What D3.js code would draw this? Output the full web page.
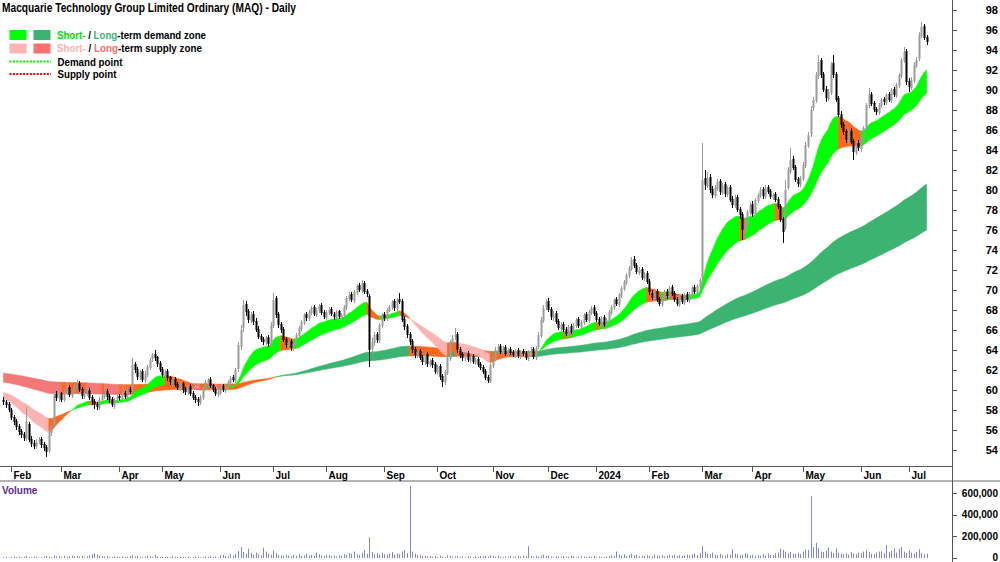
<!DOCTYPE html>
<html>
<head>
<meta charset="utf-8">
<script src="https://cdn.jsdelivr.net/npm/d3@7"></script>
<style>
  body { margin: 0; background: #fff; }
  svg { display: block; font-family: Arial, "Liberation Sans", sans-serif; }
</style>
</head>
<body>
<svg id="chart" width="1000" height="562"></svg>
<script>
// DATA (daily bars, late Jan 2023 to mid Jul 2024)
const title = 'Macquarie Technology Group Limited Ordinary (MAQ) - Daily'
const firstDay = '2023-01-27'
const holidays = ['2023-04-07','2023-04-10','2023-04-25','2023-06-12','2023-12-25','2023-12-26',
  '2024-01-01','2024-01-26','2024-03-29','2024-04-01','2024-04-25','2024-06-10']

const opens = [
  59.0,58.8,58.6,58.0,57.3,56.9,56.4,55.9,55.6,55.1, 56.6,55.1,54.7,54.3,54.9,55.1,54.6,54.3,53.9,55.7,
  56.4,59.6,59.1,59.7,59.0,59.7,60.3,59.4,59.8,60.2, 60.7,60.1,59.3,59.6,60.0,59.3,58.9,58.6,58.2,59.0,
  59.3,59.9,59.4,59.1,58.4,59.1,59.4,59.1,59.7,59.2, 60.1,59.9,62.6,62.1,61.2,61.9,60.9,61.5,62.2,63.1,
  63.6,63.3,62.7,62.1,61.4,61.9,61.3,60.7,61.1,60.6, 60.1,60.7,60.1,59.7,60.4,59.7,59.3,59.1,58.7,59.2,
  60.1,60.7,61.1,60.5,60.1,59.5,59.7,60.4,59.9,60.3, 60.7,61.3,60.9,62.1,64.3,66.2,68.6,67.9,66.9,67.6,
  66.9,66.1,65.4,65.1,64.7,65.3,64.5,66.4,69.2,67.6, 66.6,66.1,65.1,64.4,64.9,64.1,64.5,65.4,66.1,66.7,
  67.6,67.1,67.7,68.3,67.5,67.9,68.5,67.8,67.2,67.7, 68.1,67.6,67.2,67.9,67.2,67.4,68.2,69.1,69.6,68.9,
  69.7,70.5,69.9,70.7,69.9,69.4,64.1,64.7,65.6,64.9, 66.4,67.6,67.1,67.9,68.2,68.9,68.1,69.1,68.9,67.1,
  66.4,65.6,64.9,64.1,63.4,63.9,63.3,62.7,63.6,62.5, 63.0,62.6,61.7,62.4,61.4,60.7,61.7,63.1,64.7,65.3,
  65.6,64.1,63.6,63.1,63.7,62.9,63.4,62.7,63.1,62.6, 62.3,61.9,61.3,60.8,62.4,63.1,63.9,64.4,63.7,64.3,
  63.5,64.1,63.8,63.4,64.0,63.3,63.9,63.7,63.1,63.7, 64.1,63.2,64.3,65.4,66.9,68.3,68.9,68.1,67.2,67.7,
  66.9,66.1,66.6,66.1,65.5,66.4,65.7,66.4,67.1,66.3, 66.7,67.6,66.9,67.7,68.3,67.7,67.1,66.5,67.3,66.4,
  66.9,67.7,68.2,69.1,68.5,69.4,70.1,70.7,71.4,72.1, 73.1,72.5,71.7,72.1,71.1,71.7,70.9,69.7,69.1,69.9,
  69.1,68.5,69.1,69.9,69.3,70.3,69.7,69.1,68.5,69.4, 68.7,69.6,68.9,69.5,70.3,69.7,70.3,71.2,81.2,80.4,
  81.3,80.1,79.4,80.1,80.9,79.7,80.6,79.5,80.3,79.1, 78.4,79.3,78.1,77.6,75.9,76.4,77.7,78.6,77.5,78.9,
  79.4,80.1,79.3,80.3,79.9,79.2,79.6,79.1,78.4,77.1, 76.2,80.2,81.8,83.1,82.3,81.1,80.5,81.1,82.4,84.4,
  85.6,88.2,88.9,91.4,93.0,91.6,90.1,89.1,89.7,92.7, 91.6,89.2,87.6,86.6,85.9,84.9,85.9,84.9,83.7,84.7,
  84.1,84.9,86.1,88.4,89.6,88.7,88.1,87.7,88.4,89.1, 88.7,89.6,88.9,90.1,89.4,90.4,91.4,92.9,93.9,90.9,
  90.2,90.9,92.4,93.1,95.4,96.4,95.3
]
const highs = [
  59.3,59.0,58.8,58.2,57.5,57.1,56.6,56.1,55.8,58.3, 56.8,55.4,55.0,55.1,55.3,55.3,54.8,54.5,56.0,56.5,
  60.0,59.9,59.9,59.8,60.1,60.5,60.5,60.0,60.6,61.0, 60.9,60.3,59.9,60.3,60.2,59.5,59.1,58.8,59.3,59.6,
  60.1,60.1,59.6,59.3,59.2,59.5,59.6,59.9,59.9,60.3, 60.3,63.2,62.8,62.3,62.0,62.1,61.9,62.5,63.2,63.7,
  64.0,63.4,62.9,62.3,62.0,62.1,61.4,61.2,61.3,60.8, 60.8,60.8,60.3,60.5,60.6,59.9,59.5,59.3,59.5,60.4,
  61.0,61.2,61.3,60.6,60.3,60.0,60.5,60.6,60.6,61.0, 61.4,61.5,62.2,64.8,66.5,69.0,68.9,68.1,67.8,67.9,
  67.2,66.4,65.6,65.3,65.4,65.5,66.8,69.7,69.4,67.8, 66.8,66.3,65.3,65.0,65.1,64.8,65.7,66.4,67.0,67.7,
  67.8,68.0,68.4,68.5,68.2,68.6,68.7,68.0,68.0,68.3, 68.3,67.8,68.0,68.0,67.7,68.5,69.4,69.8,69.8,70.0,
  70.6,70.7,71.0,70.9,70.1,69.6,65.2,65.8,65.8,66.7, 67.7,67.8,68.2,68.5,69.0,69.1,69.2,69.7,69.1,67.4,
  66.6,65.8,65.1,64.3,64.0,64.1,63.5,63.7,63.8,63.1, 63.2,62.8,62.5,62.6,61.6,62.0,63.4,65.0,65.5,66.2,
  65.8,64.3,63.8,63.8,63.9,63.5,63.6,63.2,63.3,62.8, 62.5,62.1,61.5,62.7,63.4,64.3,64.6,64.6,64.4,64.5,
  64.2,64.3,64.0,64.1,64.2,64.0,64.1,63.9,64.0,64.3, 64.3,64.4,65.8,67.3,68.5,69.1,69.2,68.3,67.9,67.9,
  67.1,66.8,66.8,66.3,66.5,66.6,66.7,67.2,67.3,67.0, 67.7,67.8,68.0,68.4,68.5,67.9,67.3,67.4,67.5,67.2,
  68.0,68.5,69.2,69.3,69.7,70.4,71.0,71.7,72.4,73.3, 73.4,72.7,72.3,72.3,71.8,71.9,71.1,70.0,70.1,70.1,
  69.3,69.4,70.0,70.1,70.4,70.5,69.9,69.3,69.5,69.6, 69.7,69.8,69.8,70.4,70.5,70.6,71.2,84.7,82.0,81.8,
  81.6,80.4,80.5,81.1,81.1,80.7,80.8,80.4,80.5,79.4, 79.5,79.5,78.3,77.8,77.0,78.0,78.8,78.9,79.2,79.7,
  80.3,80.3,80.5,80.5,80.1,79.7,79.8,79.3,78.6,77.3, 81.0,82.3,84.2,83.4,82.5,81.3,81.4,82.8,84.8,85.8,
  88.4,89.3,91.8,93.5,93.2,91.8,90.4,90.1,92.8,93.5, 91.8,89.4,87.9,86.8,86.1,86.1,86.2,85.1,84.9,85.0,
  85.3,86.4,88.7,90.2,89.8,88.9,88.3,88.7,89.2,89.3, 89.7,89.8,90.2,90.3,90.7,91.7,93.2,94.3,94.1,91.2,
  91.3,92.8,93.3,95.8,96.8,96.6,95.5
]
const lows = [
  58.5,58.2,57.8,57.0,56.5,56.0,55.5,55.2,54.9,54.9, 54.8,54.3,54.1,54.1,54.6,54.2,53.9,53.3,53.7,55.4,
  56.3,58.9,58.8,58.8,58.8,59.5,59.3,59.2,59.6,60.0, 59.8,59.1,59.1,59.4,59.0,58.5,58.1,58.0,58.0,58.8,
  59.1,59.0,58.7,58.3,58.1,58.8,58.9,59.0,59.1,59.0, 59.6,59.7,61.7,61.0,61.0,60.8,60.7,61.3,62.0,62.8,
  62.9,62.3,61.8,61.2,61.2,60.9,60.5,60.5,60.3,60.0, 59.9,59.7,59.5,59.5,59.4,59.0,58.7,58.4,58.5,59.0,
  59.9,60.4,60.2,59.8,59.4,59.3,59.5,59.8,59.7,60.1, 60.5,60.8,60.7,61.8,64.0,65.8,67.4,66.7,66.7,66.5,
  65.8,65.1,64.8,64.5,64.5,64.3,64.3,66.2,67.2,66.2, 65.7,64.8,64.2,64.2,63.9,63.9,64.3,65.2,65.9,66.5,
  66.9,66.9,67.5,67.4,67.3,67.7,67.5,67.1,67.0,67.5, 67.4,67.0,67.0,67.1,67.0,66.9,68.0,68.9,68.8,68.7,
  69.5,69.8,69.7,69.6,69.3,62.3,63.6,64.4,64.7,64.7, 66.2,66.9,66.9,67.8,68.0,67.9,67.9,68.6,66.8,66.0,
  65.2,64.5,63.7,63.2,63.2,63.0,62.5,62.5,62.3,62.3, 62.2,61.6,61.5,61.0,60.3,60.5,61.5,62.9,64.5,65.0,
  63.7,63.2,62.9,62.9,62.8,62.7,62.6,62.5,62.3,62.0, 61.6,61.0,60.7,60.7,62.2,62.9,63.7,63.6,63.5,63.4,
  63.3,63.5,63.3,63.2,63.2,63.1,63.4,63.0,62.9,63.5, 63.1,63.0,64.1,65.2,66.7,68.0,67.8,67.0,66.9,66.6,
  66.0,65.9,65.8,65.4,65.3,65.6,65.5,66.2,66.2,66.1, 66.5,66.8,66.7,67.5,67.4,66.8,66.4,66.3,66.3,66.2,
  66.7,67.5,68.0,68.4,68.3,69.2,69.9,70.5,71.2,71.9, 72.2,71.6,71.5,71.0,70.9,70.6,69.5,69.0,68.9,68.8,
  68.4,68.3,68.9,69.1,69.1,69.4,68.8,68.4,68.3,68.6, 68.5,68.8,68.7,69.3,69.6,69.6,70.1,70.5,80.0,80.2,
  79.7,79.2,79.2,79.9,79.5,79.5,79.3,79.3,78.8,78.2, 78.2,77.8,77.1,75.0,75.6,76.2,77.5,77.3,77.3,78.7,
  79.2,79.1,79.1,79.6,79.1,79.0,78.8,78.1,76.8,74.7, 76.0,80.0,81.6,82.0,80.8,80.3,80.3,80.9,82.2,84.2,
  85.3,87.9,88.7,91.1,91.2,89.8,88.8,88.9,89.5,91.2, 88.8,87.3,86.2,85.5,84.7,84.6,84.6,83.0,83.5,83.9,
  83.8,84.7,85.9,88.2,88.4,87.8,87.5,87.5,88.2,88.5, 88.5,88.8,88.7,89.3,89.2,90.2,91.2,92.7,90.5,89.8,
  90.0,90.7,92.2,92.9,95.2,95.0,94.5
]
const closes = [
  58.8,58.5,58.0,57.2,56.8,56.3,55.8,55.5,55.2,56.8, 55.0,54.6,54.4,54.8,55.0,54.5,54.2,53.8,55.8,56.2,
  59.5,59.2,59.6,59.0,59.8,60.2,59.5,59.8,60.3,60.6, 60.0,59.4,59.7,60.1,59.2,58.8,58.5,58.3,59.0,59.4,
  59.8,59.3,59.0,58.5,59.0,59.3,59.2,59.6,59.3,60.0, 59.8,62.5,62.0,61.3,61.8,61.0,61.6,62.3,63.0,63.5,
  63.2,62.6,62.0,61.5,61.8,61.2,60.8,61.0,60.5,60.2, 60.6,60.0,59.8,60.3,59.6,59.2,59.0,58.8,59.3,60.2,
  60.8,61.0,60.4,60.0,59.6,59.8,60.3,60.0,60.4,60.8, 61.2,61.0,62.0,64.5,66.0,68.5,67.8,67.0,67.5,66.8,
  66.0,65.3,65.0,64.8,65.2,64.6,66.5,69.0,67.5,66.5, 66.0,65.0,64.5,64.8,64.2,64.6,65.5,66.2,66.8,67.5,
  67.2,67.8,68.2,67.6,68.0,68.4,67.7,67.3,67.8,68.0, 67.6,67.3,67.8,67.3,67.5,68.3,69.2,69.5,69.0,69.8,
  70.4,70.0,70.6,69.8,69.6,64.0,64.8,65.5,65.0,66.5, 67.5,67.2,68.0,68.3,68.8,68.2,69.0,68.8,67.0,66.3,
  65.5,64.8,64.0,63.5,63.8,63.2,62.8,63.5,62.6,62.9, 62.5,61.8,62.3,61.3,60.8,61.8,63.2,64.8,65.2,65.5,
  64.0,63.5,63.2,63.6,63.0,63.3,62.8,63.0,62.5,62.2, 61.8,61.2,60.9,62.5,63.2,64.0,64.3,63.8,64.2,63.6,
  64.0,63.7,63.5,63.9,63.4,63.8,63.6,63.2,63.8,64.0, 63.3,64.2,65.5,67.0,68.2,68.8,68.0,67.3,67.6,66.8,
  66.2,66.5,66.0,65.6,66.3,65.8,66.5,67.0,66.4,66.8, 67.5,67.0,67.8,68.2,67.6,67.0,66.6,67.2,66.5,67.0,
  67.8,68.3,69.0,68.6,69.5,70.2,70.8,71.5,72.2,73.0, 72.4,71.8,72.0,71.2,71.6,70.8,69.8,69.2,69.8,69.0,
  68.6,69.2,69.8,69.4,70.2,69.6,69.0,68.6,69.3,68.8, 69.5,69.0,69.6,70.2,69.8,70.4,71.0,81.0,80.5,81.2,
  80.0,79.5,80.2,80.8,79.8,80.5,79.6,80.2,79.0,78.5, 79.2,78.0,77.5,76.0,76.5,77.8,78.5,77.6,79.0,79.5,
  80.0,79.4,80.2,79.8,79.3,79.5,79.0,78.3,77.0,75.8, 80.0,82.0,83.0,82.2,81.0,80.6,81.2,82.5,84.5,85.5,
  88.0,89.0,91.5,92.8,91.5,90.0,89.2,89.8,92.5,91.5, 89.0,87.5,86.5,85.8,85.0,85.8,84.8,83.8,84.6,84.2,
  85.0,86.2,88.5,89.5,88.6,88.0,87.8,88.5,89.0,88.8, 89.5,89.0,90.0,89.5,90.5,91.5,93.0,93.8,90.8,90.3,
  91.0,92.5,93.0,95.5,96.3,95.2,94.8
]
// volume in thousands of shares
const volumes = [
  8,12,6,10,15,9,11,7,13,20, 9,6,12,8,5,10,14,18,12,9,
  25,15,18,12,20,10,16,22,14,19, 12,18,9,15,26,35,45,30,22,18,
  14,20,12,9,16,11,8,14,10,12, 18,25,15,20,12,9,14,22,18,12,
  28,15,10,14,9,12,8,15,11,9, 13,10,8,12,6,9,14,11,7,10,
  15,12,20,9,14,8,25,30,18,12, 35,22,40,65,100,55,40,85,45,30,
  50,35,25,95,60,40,30,70,45,30, 25,18,30,22,15,28,20,35,18,25,
  40,22,30,18,50,35,25,20,30,28, 18,22,15,25,20,35,30,45,40,60,
  35,28,50,75,40,190,55,35,45,30, 50,35,28,40,55,30,42,35,60,70,
  45,665,60,40,30,25,18,22,15,20, 12,18,10,22,15,8,25,18,12,15,
  20,10,14,8,16,12,9,15,11,18, 14,20,12,25,18,10,22,14,9,16,
  12,18,10,15,20,14,22,16,110,18, 12,20,15,25,30,18,22,14,10,16,
  12,9,18,14,10,22,15,8,12,18, 14,10,16,12,20,8,15,11,9,14,
  18,25,20,60,30,22,35,18,28,40, 25,30,15,22,18,26,20,14,30,22,
  18,25,15,20,28,22,30,18,25,20, 22,30,25,35,40,28,45,110,60,40,
  35,50,30,25,40,28,22,35,30,80, 40,35,25,30,45,38,25,30,20,28,
  22,35,25,40,30,28,45,50,85,75, 60,45,55,40,38,50,35,60,80,75,
  572,100,140,90,60,55,70,95,60,45, 90,50,40,35,45,30,55,40,35,50,
  45,60,70,55,40,35,50,60,60,45, 120,55,65,90,50,85,100,60,45,70,
  50,40,55,80,45,35,40
]
// zone settings: EMA periods and their values at the first bar
const shortPeriods = [20, 40]
const shortSeeds = [59.1, 59.8]
const longPeriods = [150, 250]
const longSeeds = [60.8, 61.7]
const priceTicks = d3.range(54, 99, 2)
const volumeTicks = [0, 200000, 400000, 600000]

const colors = {
  shortUp: '#00ff00', shortDown: '#ffb4b4',
  longUp: '#3cb371', longDown: '#f47878',
  mixed: '#ff6820',
  upBar: '#9c9c9c', downBar: '#000000',
  volume: '#8585d6'
}

/*
DATES
*/
const N = closes.length
const parse = d3.timeParse('%Y-%m-%d')
const fmt = d3.timeFormat('%Y-%m-%d')
const dates = []
let day = parse(firstDay)
while (dates.length < N) {
  if (day.getDay() !== 0 && day.getDay() !== 6 && !holidays.includes(fmt(day))) dates.push(new Date(day))
  day = d3.timeDay.offset(day, 1)
}

/*
SCALES
*/
const svg = d3.select('#chart')
const plotRight = 952
const x = d3.scaleBand().domain(d3.range(N)).range([2.2, 2.2 + N * 2.522])
const cx = i => x(i) + x.bandwidth() / 2
const y = d3.scaleLinear().domain([52.4, 99]).range([466, 0])
const yv = d3.scaleLinear().domain([0, 600000]).range([558, 493])

/*
ZONES
*/
function ema(values, n, seed) {
  const k = 2 / (n + 1)
  let e = seed
  return values.map(v => (e = e + k * (v - e)))
}

function drawZone(periods, seeds, upColor, downColor) {
  const fast = ema(closes, periods[0], seeds[0])
  const slow = ema(closes, periods[1], seeds[1])
  const state = fast.map((f, i) => {
    const prev = i ? fast[i - 1] : f
    if (f >= slow[i]) return f >= prev ? upColor : colors.mixed
    return f <= prev ? downColor : colors.mixed
  })
  const area = d3.area().x(i => cx(i)).y0(i => y(fast[i])).y1(i => y(slow[i]))
  let start = 0
  for (let i = 1; i <= N; i++) {
    if (i === N || state[i] !== state[start]) {
      const idx = d3.range(Math.max(0, start - 1), i)
      svg.append('path')
        .attr('d', area(idx))
        .attr('fill', state[start])
        .attr('stroke', state[start])
        .attr('stroke-width', 0.6)
      start = i
    }
  }
}

drawZone(longPeriods, longSeeds, colors.longUp, colors.longDown)
drawZone(shortPeriods, shortSeeds, colors.shortUp, colors.shortDown)

/*
CANDLES
*/
const candles = svg.append('g')
closes.forEach((c, i) => {
  const o = opens[i]
  const col = c >= o ? colors.upBar : colors.downBar
  const px = Math.round(cx(i))
  candles.append('line')
    .attr('x1', px + 0.5).attr('x2', px + 0.5)
    .attr('y1', y(highs[i])).attr('y2', y(lows[i]))
    .attr('stroke', col).attr('stroke-width', 1)
  candles.append('rect')
    .attr('x', px - 0.5).attr('width', 2)
    .attr('y', y(Math.max(o, c)))
    .attr('height', Math.max(1, Math.abs(y(o) - y(c))))
    .attr('fill', col)
})

/*
VOLUME
*/
svg.append('g').selectAll('line')
  .data(volumes)
  .enter()
  .append('line')
  .attr('x1', (d, i) => Math.round(cx(i)) + 0.5)
  .attr('x2', (d, i) => Math.round(cx(i)) + 0.5)
  .attr('y1', yv(0))
  .attr('y2', d => yv(d * 1000))
  .attr('stroke', colors.volume)
  .attr('stroke-width', 1)

/*
AXES AND FRAME
*/
svg.append('line').attr('x1', 0).attr('x2', plotRight).attr('y1', 466.5).attr('y2', 466.5).attr('stroke', '#555')
svg.append('rect').attr('x', 0).attr('y', 480).attr('width', 1000).attr('height', 2).attr('fill', '#b4b4b4')
svg.append('line').attr('x1', plotRight + 0.5).attr('x2', plotRight + 0.5).attr('y1', 0).attr('y2', 562).attr('stroke', '#555')

const priceAxis = svg.append('g')
priceTicks.forEach(v => {
  priceAxis.append('line').attr('x1', plotRight).attr('x2', plotRight + 5)
    .attr('y1', Math.round(y(v)) + 0.5).attr('y2', Math.round(y(v)) + 0.5).attr('stroke', '#555')
  priceAxis.append('text').attr('x', 998).attr('y', y(v) + 4)
    .attr('text-anchor', 'end').attr('font-size', 11).attr('font-weight', 'bold').text(v)
})

const volAxis = svg.append('g')
volumeTicks.forEach(v => {
  volAxis.append('line').attr('x1', plotRight).attr('x2', plotRight + 5)
    .attr('y1', Math.round(yv(v)) + 0.5).attr('y2', Math.round(yv(v)) + 0.5).attr('stroke', '#555')
  volAxis.append('text').attr('x', 998).attr('y', Math.min(yv(v) + 3.5, 561))
    .attr('text-anchor', 'end').attr('font-size', 10).attr('font-weight', 'bold').text(d3.format(',')(v))
})

// month ticks and labels
const monthFmt = d3.timeFormat('%b')
dates.forEach((d, i) => {
  if (i === 0 || d.getMonth() === dates[i - 1].getMonth()) return
  const px = Math.round(cx(i)) + 0.5
  svg.append('line').attr('x1', px).attr('x2', px).attr('y1', 466).attr('y2', 472).attr('stroke', '#555')
  svg.append('text').attr('x', px + 2).attr('y', 478.5)
    .attr('font-size', 10).attr('font-weight', 'bold')
    .text(d.getMonth() === 0 ? d.getFullYear() : monthFmt(d))
})

svg.append('text').attr('x', 2).attr('y', 494).attr('font-size', 10).attr('font-weight', 'bold')
  .attr('fill', '#5c2d91').text('Volume')

/*
TITLE AND LEGEND
*/
svg.append('text').attr('x', 2).attr('y', 12).attr('font-size', 12).attr('font-weight', 'bold')
  .attr('textLength', 294).attr('lengthAdjust', 'spacingAndGlyphs').text(title)

const legend = svg.append('g').attr('font-size', 11).attr('font-weight', 'bold')

// writes coloured pieces one after another, squeezed to the width seen in the picture
function legendLine(x0, yBase, pieces, targetLen) {
  const g = legend.append('g')
  let pos = 0
  pieces.forEach(p => {
    const t = g.append('text').attr('x', pos).attr('y', 0).attr('fill', p.color || '#000')
      .attr('xml:space', 'preserve').style('white-space', 'pre').text(p.text)
    pos += t.node().getComputedTextLength()
  })
  g.attr('transform', `translate(${x0},${yBase}) scale(${targetLen / pos},1)`)
}

const zoneRows = [
  { y: 30, c1: colors.shortUp, c2: colors.longUp, t1: '#00e000', t2: '#3cb371', word: 'demand', len: 149 },
  { y: 43.5, c1: colors.shortDown, c2: '#ff7070', t1: '#ffb0b0', t2: '#ff6a6a', word: 'supply', len: 145 }
]
zoneRows.forEach(r => {
  legend.append('rect').attr('x', 9.5).attr('y', r.y).attr('width', 17).attr('height', 10).attr('fill', r.c1)
  legend.append('rect').attr('x', 33.5).attr('y', r.y).attr('width', 17).attr('height', 10).attr('fill', r.c2)
  legendLine(57, r.y + 8.8, [
    { text: 'Short-', color: r.t1 },
    { text: ' / ' },
    { text: 'Long', color: r.t2 },
    { text: `-term ${r.word} zone` }
  ], r.len)
})
const pointRows = [
  { y: 61.5, color: '#00ee00', label: 'Demand point', len: 65 },
  { y: 74, color: '#ff0000', label: 'Supply point', len: 59 }
]
pointRows.forEach(r => {
  legend.append('line').attr('x1', 9.5).attr('x2', 51).attr('y1', r.y).attr('y2', r.y)
    .attr('stroke', r.color).attr('stroke-width', 2).attr('stroke-dasharray', '2 1.4')
  legendLine(57.5, r.y + 4, [{ text: r.label }], r.len)
})
</script>
</body>
</html>
